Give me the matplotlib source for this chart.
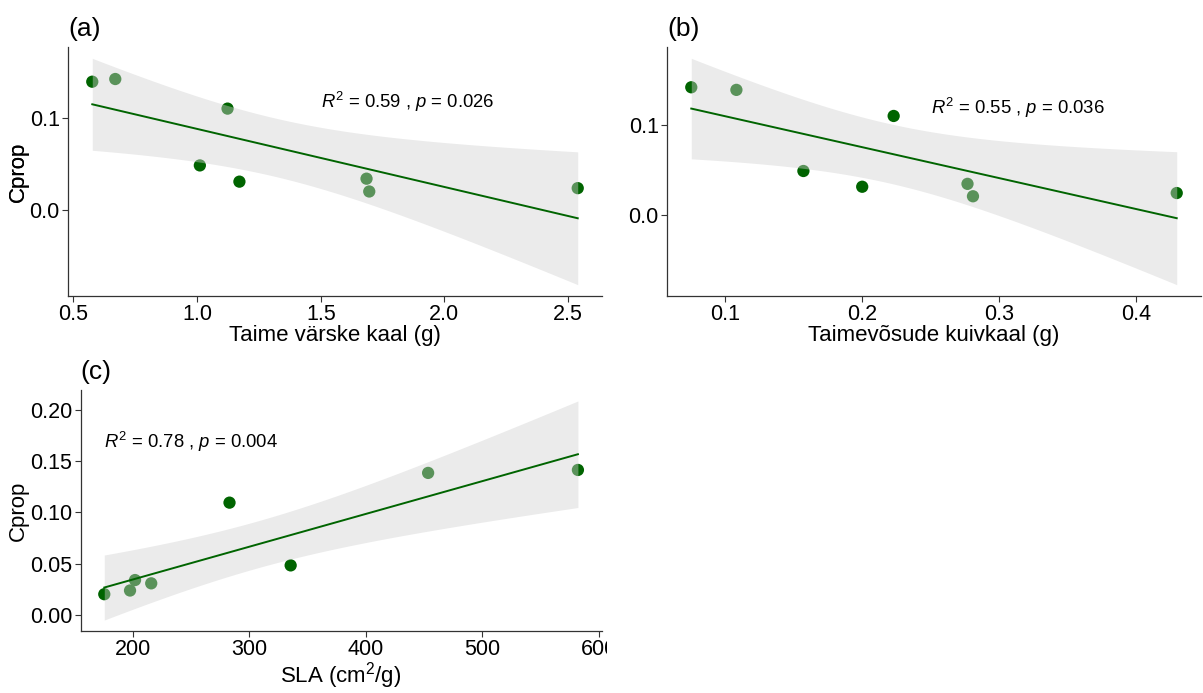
import numpy as np
import matplotlib
matplotlib.use("Agg")
import matplotlib.pyplot as plt
from matplotlib.transforms import Bbox, TransformedBbox

plt.rcParams['font.family'] = ['Liberation Sans', 'DejaVu Sans']
plt.rcParams['mathtext.fontset'] = 'custom'
plt.rcParams['mathtext.rm'] = 'Liberation Sans'
plt.rcParams['mathtext.it'] = 'Liberation Sans:italic'

# Cprop of the 8 samples (same order in every panel)
cprop = [0.1415, 0.1386, 0.1096, 0.0484, 0.0309, 0.0341, 0.0203, 0.0239]

# explanatory variables
varske_kaal = [0.669, 0.576, 1.123, 1.011, 1.171, 1.685, 1.696, 2.539]
kuivkaal = [0.075, 0.108, 0.223, 0.157, 0.200, 0.277, 0.281, 0.430]
sla = [582.3, 453.7, 283.2, 335.7, 216.0, 202.1, 175.7, 197.8]

labels_stat = [r'$R^2$ = 0.59 , $p$ = 0.026',
               r'$R^2$ = 0.55 , $p$ = 0.036',
               r'$R^2$ = 0.78 , $p$ = 0.004']
stat_pos = [(1.5, 0.117), (0.25, 0.118), (175.5, 0.169)]
panel_tags = ['(a)', '(b)', '(c)']
xlabels = ['Taime värske kaal (g)', 'Taimevõsude kuivkaal (g)',
           r'SLA $(\mathrm{cm}^2/\mathrm{g})$']
xticks = [[0.5, 1.0, 1.5, 2.0, 2.5], [0.1, 0.2, 0.3, 0.4],
          [200, 300, 400, 500, 600]]
xticklabels = [['0.5', '1.0', '1.5', '2.0', '2.5'], ['0.1', '0.2', '0.3', '0.4'],
               ['200', '300', '400', '500', '600']]
yticks = [[0.0, 0.1], [0.0, 0.1], [0.0, 0.05, 0.10, 0.15, 0.20]]
yticklabels = [['0.0', '0.1'], ['0.0', '0.1'],
               ['0.00', '0.05', '0.10', '0.15', '0.20']]

T975 = 2.446912  # t quantile, df = 6

W, H = 1203, 693
fig = plt.figure(figsize=(W / 100, H / 100), dpi=100)

# axes boxes in pixels: left, top, right, bottom
boxes = [(68, 47, 602, 296), (667, 47, 1201, 296), (80.6, 390, 601.6, 631)]

green = '#006400'


def fit_band(x, y):
    x = np.asarray(x)
    y = np.asarray(y)
    n = len(x)
    b, a = np.polyfit(x, y, 1)
    resid = y - (a + b * x)
    s = np.sqrt(np.sum(resid ** 2) / (n - 2))
    sxx = np.sum((x - x.mean()) ** 2)
    xs = np.linspace(x.min(), x.max(), 80)
    yh = a + b * xs
    se = s * np.sqrt(1 / n + (xs - x.mean()) ** 2 / sxx)
    return xs, yh, yh - T975 * se, yh + T975 * se


for i, xdata in enumerate([varske_kaal, kuivkaal, sla]):
    l, t, r, b = boxes[i]
    ax = fig.add_axes([l / W, 1 - b / H, (r - l) / W, (b - t) / H])
    xs, yh, lo, hi = fit_band(xdata, cprop)

    ax.scatter(xdata, cprop, s=78, color=green, edgecolors='none', zorder=2)
    ax.fill_between(xs, lo, hi, color='#D1D1D1', alpha=0.43, lw=0, zorder=3)
    ax.plot(xs, yh, color=green, lw=1.4, zorder=4)

    xmin, xmax = min(xdata), max(xdata)
    dx = (xmax - xmin) * 0.05
    ax.set_xlim(xmin - dx, xmax + dx)
    ymin = min(min(cprop), lo.min())
    ymax = max(max(cprop), hi.max())
    dy = (ymax - ymin) * 0.05
    ax.set_ylim(ymin - dy, ymax + dy)

    ax.set_xticks(xticks[i])
    ax.set_xticklabels(xticklabels[i])
    ax.set_yticks(yticks[i])
    ax.set_yticklabels(yticklabels[i])
    ax.tick_params(labelsize=15.5, length=4, width=0.8, color='#333333',
                   labelcolor='black', pad=2)
    for side in ['top', 'right']:
        ax.spines[side].set_visible(False)
    for side in ['left', 'bottom']:
        ax.spines[side].set_color('#333333')
        ax.spines[side].set_linewidth(0.9)

    ax.set_xlabel(xlabels[i], fontsize=16, labelpad=0)
    ax.set_ylabel('Cprop', fontsize=16)
    ax.yaxis.set_label_coords((29 - l) / (r - l), 0.5)

    ax.text(stat_pos[i][0], stat_pos[i][1], labels_stat[i], fontsize=13.3,
            ha='left', va='center')
    ax.text(0.0, 1.025, panel_tags[i], transform=ax.transAxes, fontsize=19,
            ha='left', va='bottom')

    # the lower-left panel is cropped at its right edge in the original
    if i == 2:
        crop = TransformedBbox(Bbox([[0, 0], [607 / W, 1]]), fig.transFigure)
        for lab in ax.get_xticklabels():
            lab.set_clip_box(crop)
            lab.set_clip_on(True)

fig.savefig('out.png', dpi=100)
